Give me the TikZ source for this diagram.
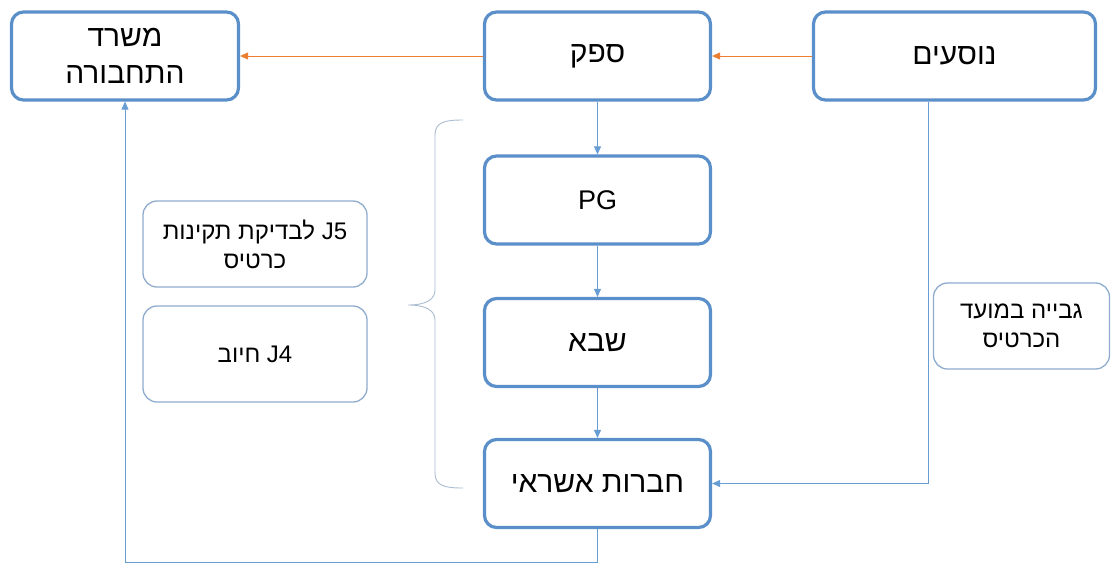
\documentclass[tikz,border=0pt]{standalone}
\usepackage{fontspec}
\setmainfont{Liberation Sans}
\newfontfamily\hebfont[Script=Hebrew]{Liberation Sans}
\TeXXeTstate=1
\usepackage{xcolor}
\usetikzlibrary{arrows.meta}
\definecolor{boxblue}{RGB}{91,143,201}
\definecolor{thinblue}{RGB}{143,172,206}
\definecolor{lineblue}{RGB}{104,157,212}
\definecolor{arroworange}{RGB}{237,125,49}
\definecolor{bracegray}{RGB}{170,188,208}

\begin{document}
\begin{tikzpicture}[x=1pt,y=-1pt]
					\tikzstyle{box} = [rectangle,rounded corners=12pt,draw=boxblue,line width=3.2pt,fill=white,minimum width=226pt,minimum height=88pt,align=center,font=\hebfont\fontsize{30}{37}\selectfont]
					\tikzstyle{sidebox} = [rectangle,rounded corners=14pt,draw=thinblue,line width=1.3pt,fill=white,minimum width=224pt,minimum height=86pt,align=center,font=\hebfont\fontsize{24}{29}\selectfont]
					\tikzstyle{edge} = [-{Triangle[length=8pt,width=7pt]},draw=lineblue,line width=0.9pt]
					\tikzstyle{oedge} = [-{Triangle[length=8pt,width=7pt]},draw=arroworange,line width=0.9pt]
					\useasboundingbox (0,0) rectangle (1113,563);
					\node[box,minimum width=227pt] (n1) at (125,56) {\beginR משרד\endR\\\beginR התחבורה\endR};
					\node[box] (n2) at (597.5,56) {\beginR ספק\endR};
					\node[box,minimum width=282pt] (n3) at (954.5,56) {\beginR נוסעים\endR};
					\node[box,font=\hebfont\fontsize{27}{33}\selectfont] (n4) at (597.5,200) {PG};
					\node[box] (n5) at (597.5,342.5) {\beginR שבא\endR};
					\node[box] (n6) at (597.5,483.5) {\beginR חברות אשראי\endR};
					\node[sidebox] (n7) at (255,244) {\beginR\beginL J5\endL{} לבדיקת תקינות\endR\\\beginR כרטיס\endR};
					\node[sidebox,minimum height=96pt] (n8) at (255,354) {\beginR\beginL J4\endL{} חיוב\endR};
					\node[sidebox,minimum width=176pt] (n9) at (1021.5,326) {\beginR גבייה במועד\endR\\\beginR הכרטיס\endR};
					\coordinate (c1) at (928,0);
					\draw[oedge] (n2.west) -- (n1.east);
					\draw[oedge] (n3.west) -- (n2.east);
					\draw[edge] (n2) -- (n4);
					\draw[edge] (n4) -- (n5);
					\draw[edge] (n5) -- (n6);
					\draw[edge] (n3.south -| c1) |- (n6.east);
					\draw[edge] (n6.south) -- ++(0,33) -| (n1.south);
					\draw[bracegray,line width=0.9pt] (463,120) .. controls (445,120) and (435,122) .. (435,135) -- (435,290) .. controls (435,300) and (425,305) .. (408,305) .. controls (425,305) and (435,310) .. (435,320) -- (435,473) .. controls (435,486) and (445,488) .. (463,488);
					\end{tikzpicture}
\end{document}
